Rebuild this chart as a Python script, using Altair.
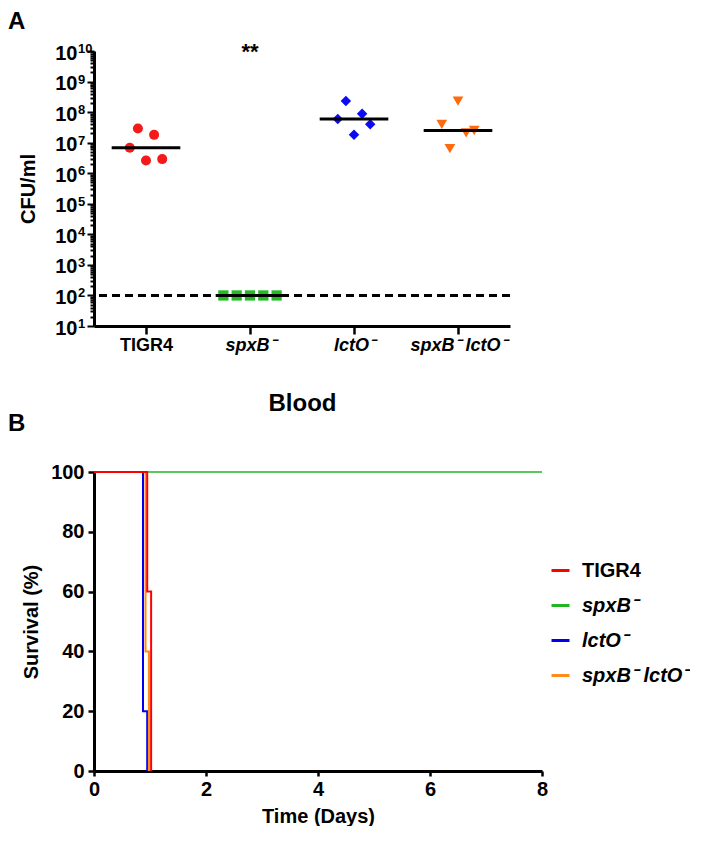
import json
import altair as alt
import pandas as pd

FONT = "Liberation Sans"

# ---------------- Panel A data (CFU/ml in blood) ----------------
groups = ["TIGR4", "spxB⁻", "lctO⁻", "spxB⁻ lctO⁻"]
cfu_tigr4 = [6.8e6, 2.9e7, 2.6e6, 1.8e7, 2.9e6]
cfu_spxb = [100, 100, 100, 100, 100]
cfu_lcto = [5.9e7, 2.3e8, 1.8e7, 8.9e7, 4.0e7]
cfu_double = [4.0e7, 6.4e6, 2.3e8, 2.1e7, 2.5e7]
detection_limit = 100
significance = "**"

point_colors = ["#f41a1a", "#22bb22", "#0a0af5", "#ff6a0d"]
point_shapes = ["circle", "square", "diamond", "triangle-down"]

y_decades = [10 ** k for k in range(1, 11)]
y_decade_base = "10"
y_exponents = ["1", "2", "3", "4", "5", "6", "7", "8", "9", "10"]
y_minor = [m * 10 ** k for k in range(1, 10) for m in range(2, 10)]

# ---------------- Panel B data (survival) ----------------
surv_t_tigr4 = [0, 0.95, 1.02]
surv_s_tigr4 = [100, 60, 0]
surv_t_spxb = [0, 8]
surv_s_spxb = [100, 100]
surv_t_lcto = [0, 0.875, 0.95]
surv_s_lcto = [100, 20, 0]
surv_t_double = [0, 0.92, 0.98]
surv_s_double = [100, 40, 0]
line_colors = ["#ff0000", "#22b522", "#0000ee", "#ff8c1a"]
line_widths = [2, 1.5, 2, 2]
x_days_ticks = [0, 2, 4, 6, 8]
y_surv_ticks = [0, 20, 40, 60, 80, 100]

# ---------------- build tables ----------------
rows = []
for gi, (g, vals) in enumerate(zip(groups, [cfu_tigr4, cfu_spxb, cfu_lcto, cfu_double])):
    for r, v in enumerate(vals, start=1):
        rows.append({"group": g, "gi": gi, "rep": r, "cfu": v})
dfA = pd.DataFrame(rows)

rowsB = []
for g, ts, ss in zip(groups,
                     [surv_t_tigr4, surv_t_spxb, surv_t_lcto, surv_t_double],
                     [surv_s_tigr4, surv_s_spxb, surv_s_lcto, surv_s_double]):
    for t, s in zip(ts, ss):
        rowsB.append({"strain": g, "t": t, "s": s})
dfB = pd.DataFrame(rowsB)

# ---------------- Panel A ----------------
decade_test = "abs(log(datum.value)/LN10 - round(log(datum.value)/LN10)) < 0.001"
y_label_expr = f"{decade_test} ? '{y_decade_base}' : ''"

xA = alt.X(
    "xpos:Q",
    scale=alt.Scale(domain=[-0.5, 3.5], nice=False, zero=False),
    axis=alt.Axis(
        values=[0, 1, 2, 3],
        labelExpr=f"{json.dumps(groups, ensure_ascii=False)}[datum.value]",
        labelFontStyle={"condition": {"test": "datum.value == 0", "value": "normal"}, "value": "italic"},
        labelFontSize=18, labelFontWeight="bold", labelPadding=2, labelFlush=False,
        tickSize=8, tickWidth=2.5, domainWidth=3,
        title="Blood", titleFontSize=24, titleFontWeight="bold", titlePadding=37,
        grid=False,
    ),
)
yA = alt.Y(
    "cfu:Q",
    scale=alt.Scale(type="log", domain=[10, 1e10], nice=False),
    axis=alt.Axis(
        values=y_decades + y_minor,
        labelExpr=y_label_expr,
        labelOverlap=False,
        labelFontSize=20, labelFontWeight="bold", labelPadding=10, labelOffset=2,
        tickSize={"condition": {"test": decade_test, "value": 7}, "value": 4},
        tickWidth=2, domainWidth=3,
        title="CFU/ml", titleFontSize=20, titleFontWeight="bold", titlePadding=16,
        grid=False,
    ),
)

points = alt.Chart(dfA).transform_calculate(
    xpos="datum.gi + (datum.rep - 3) * (datum.gi == 1 ? 0.128 : 0.078)"
).mark_point(filled=True, opacity=1).encode(
    x=xA,
    y=yA,
    shape=alt.Shape("group:N", scale=alt.Scale(domain=groups, range=point_shapes), legend=None),
    color=alt.Color("group:N", scale=alt.Scale(domain=groups, range=point_colors), legend=None),
    size=alt.Size("group:N", scale=alt.Scale(domain=groups, range=[100, 115, 140, 115]), legend=None),
)

medians = alt.Chart(dfA).transform_aggregate(
    med="median(cfu)", groupby=["gi"]
).transform_calculate(
    x0="datum.gi - 0.33", x1="datum.gi + 0.33"
).mark_rule(color="black", strokeWidth=3).encode(
    x=alt.X("x0:Q"), x2="x1:Q", y=alt.Y("med:Q"),
)

lod = alt.Chart(pd.DataFrame({"lod": [detection_limit]})).mark_rule(
    color="black", strokeWidth=3, strokeDash=[8, 5]
).encode(y=alt.Y("lod:Q"))

stars = alt.Chart(pd.DataFrame({"gi": [1], "y": [1e10], "label": [significance]})).mark_text(
    fontSize=22, fontWeight="bold", baseline="middle", dy=1, color="black"
).encode(x=alt.X("gi:Q"), y=alt.Y("y:Q"), text="label:N")

exponents = alt.Chart(pd.DataFrame({"v": y_decades, "e": y_exponents})).mark_text(
    fontSize=13, fontWeight="bold", align="left", baseline="alphabetic", dy=2, color="black"
).encode(x=alt.value(-16), y=alt.Y("v:Q"), text="e:N")

letter_a = alt.Chart(pd.DataFrame({"t": ["A"]})).mark_text(
    fontSize=24, fontWeight="bold", align="left", baseline="alphabetic", color="black"
).encode(x=alt.value(-86), y=alt.value(-22), text="t:N")

letter_b = alt.Chart(pd.DataFrame({"t": ["B"]})).mark_text(
    fontSize=24, fontWeight="bold", align="left", baseline="alphabetic", color="black"
).encode(x=alt.value(-86), y=alt.value(380), text="t:N")

chartA = alt.layer(points, medians, lod, stars, exponents, letter_a, letter_b).properties(width=416, height=275)

# ---------------- Panel B ----------------
xB = alt.X(
    "t:Q",
    scale=alt.Scale(domain=[0, 8], nice=False),
    axis=alt.Axis(
        values=x_days_ticks, labelFlush=False,
        labelFontSize=20, labelFontWeight="bold", labelPadding=3,
        tickSize=5, tickWidth=2.5, domainWidth=3,
        title="Time (Days)", titleFontSize=20, titleFontWeight="bold", titlePadding=7,
        grid=False,
    ),
)
yB = alt.Y(
    "s:Q",
    scale=alt.Scale(domain=[0, 100], nice=False),
    axis=alt.Axis(
        values=y_surv_ticks,
        labelFontSize=20, labelFontWeight="bold", labelPadding=4,
        tickSize=6, tickWidth=2.5, domainWidth=3,
        title="Survival (%)", titleFontSize=20, titleFontWeight="bold", titlePadding=9,
        grid=False,
    ),
)
colorB = alt.Color(
    "strain:N",
    scale=alt.Scale(domain=groups, range=line_colors),
    legend=alt.Legend(
        title=None, orient="none", legendX=456, legendY=88,
        symbolType="stroke", symbolSize=324, symbolStrokeWidth=3,
        labelFontSize=20, labelFontWeight="bold",
        labelFontStyle={"expr": "datum.label == 'TIGR4' ? 'normal' : 'italic'"},
        labelOffset=11, rowPadding=14, padding=0, labelLimit=300,
    ),
)

width_of = dict(zip(groups, line_widths))
draw_order = [groups[1], groups[2], groups[3], groups[0]]
line_layers = [
    alt.Chart(dfB).transform_filter(alt.datum.strain == g).mark_line(
        interpolate="step-after", strokeWidth=width_of[g]
    ).encode(x=xB, y=yB, color=colorB)
    for g in draw_order
]
chartB = alt.layer(*line_layers).properties(width=448, height=299)

chart = alt.vconcat(chartA, chartB, spacing=26).resolve_scale(
    x="independent", y="independent", color="independent", shape="independent", size="independent"
).properties(padding={"top": 2, "left": 0, "right": 0, "bottom": 0}).configure(font=FONT).configure_view(
    stroke=None
).configure_axis(
    labelColor="black", titleColor="black", domainColor="black", tickColor="black",
    labelFont=FONT, titleFont=FONT,
).configure_legend(labelColor="black", labelFont=FONT).configure_text(font=FONT)

chart.save("out.html", embed_options={"renderer": "svg", "actions": False})
